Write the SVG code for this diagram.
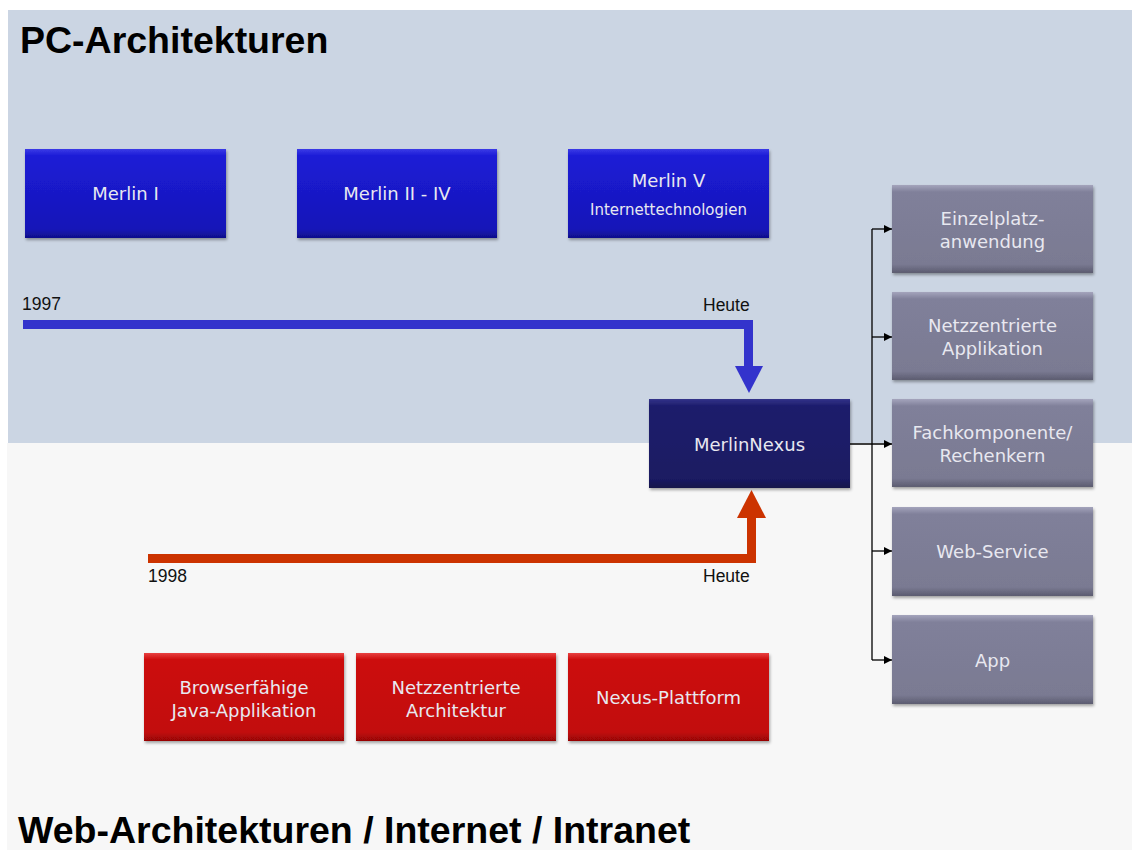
<svg xmlns="http://www.w3.org/2000/svg" width="1132" height="850" viewBox="0 0 1132 850">
<defs>
<filter id="sh" x="-10%" y="-10%" width="125%" height="130%">
<feDropShadow dx="1" dy="2" stdDeviation="1.5" flood-color="#000" flood-opacity="0.35"/>
</filter>
<linearGradient id="gBlue" x1="0" y1="0" x2="0" y2="1">
<stop offset="0" stop-color="#3a3ae6"/><stop offset="0.08" stop-color="#1c1cd6"/><stop offset="0.9" stop-color="#1616b8"/><stop offset="1" stop-color="#10108a"/>
</linearGradient>
<linearGradient id="gNavy" x1="0" y1="0" x2="0" y2="1">
<stop offset="0" stop-color="#34348a"/><stop offset="0.08" stop-color="#1d1d6c"/><stop offset="0.9" stop-color="#1a1a62"/><stop offset="1" stop-color="#12124a"/>
</linearGradient>
<linearGradient id="gRed" x1="0" y1="0" x2="0" y2="1">
<stop offset="0" stop-color="#e84040"/><stop offset="0.08" stop-color="#cc0a0a"/><stop offset="0.9" stop-color="#c20808"/><stop offset="1" stop-color="#960606"/>
</linearGradient>
<linearGradient id="gGray" x1="0" y1="0" x2="0" y2="1">
<stop offset="0" stop-color="#a4a4bc"/><stop offset="0.08" stop-color="#80809a"/><stop offset="0.9" stop-color="#7a7a92"/><stop offset="1" stop-color="#5c5c70"/>
</linearGradient>
<marker id="ah" markerWidth="8" markerHeight="8" refX="8" refY="4" orient="auto" markerUnits="userSpaceOnUse">
<path d="M0,0 L8,4 L0,8 Z" fill="#000"/>
</marker>
<style>
.node rect{filter:url(#sh);}
.lbl{font-family:"DejaVu Sans","Liberation Sans",sans-serif;font-size:18px;fill:#e8e8f0;text-anchor:middle;}
.sm{font-size:15px;}
.title{font-family:"Liberation Sans",Arial,sans-serif;font-weight:bold;font-size:37.5px;fill:#000;}
.tl{font-family:"Liberation Sans",Arial,sans-serif;font-size:17.5px;fill:#111;}
</style>
</defs>
<rect x="0" y="0" width="1132" height="850" fill="#fff"/>
<rect x="8" y="10" width="1124" height="433" fill="#cbd5e3"/>
<rect x="7" y="443" width="1125" height="407" fill="#f7f7f7"/>
<text class="title" x="20" y="53">PC-Architekturen</text>
<text class="title" x="18" y="843">Web-Architekturen / Internet / Intranet</text>

<g id="conn">
<path d="M23,324.5 H748.5 V366" fill="none" stroke="#3333cc" stroke-width="9"/>
<polygon points="735,366 763,366 749,393" fill="#3333cc"/>
<path d="M148,558.5 H751.5 V518" fill="none" stroke="#cc3300" stroke-width="9"/>
<polygon points="737,518 766,518 751.5,490" fill="#cc3300"/>
<g fill="none" stroke="#000" stroke-width="1.3">
<path d="M850,444 H892" marker-end="url(#ah)"/>
<path d="M872,229 V660"/>
<path d="M872,229 H892" marker-end="url(#ah)"/>
<path d="M872,337 H892" marker-end="url(#ah)"/>
<path d="M872,551 H892" marker-end="url(#ah)"/>
<path d="M872,660 H892" marker-end="url(#ah)"/>
</g>
<text class="tl" x="22" y="310">1997</text>
<text class="tl" x="703" y="311">Heute</text>
<text class="tl" x="148" y="582">1998</text>
<text class="tl" x="703" y="582">Heute</text>
</g>

<g id="merlin1" class="node"><rect x="25" y="149" width="201" height="89" fill="url(#gBlue)"/><text class="lbl" x="125.5" y="200">Merlin I</text></g>
<g id="merlin2" class="node"><rect x="297" y="149" width="200" height="89" fill="url(#gBlue)"/><text class="lbl" x="397" y="200">Merlin II - IV</text></g>
<g id="merlin5" class="node"><rect x="568" y="149" width="201" height="89" fill="url(#gBlue)"/><text class="lbl" x="668.5" y="187">Merlin V</text><text class="lbl sm" x="668.5" y="215">Internettechnologien</text></g>

<g id="nexus" class="node"><rect x="649" y="399" width="201" height="89" fill="url(#gNavy)"/><text class="lbl" x="749.5" y="451">MerlinNexus</text></g>

<g id="red1" class="node"><rect x="144" y="653" width="200" height="88" fill="url(#gRed)"/><text class="lbl" x="244" y="694">Browserfähige</text><text class="lbl" x="244" y="717">Java-Applikation</text></g>
<g id="red2" class="node"><rect x="356" y="653" width="200" height="88" fill="url(#gRed)"/><text class="lbl" x="456" y="694">Netzzentrierte</text><text class="lbl" x="456" y="717">Architektur</text></g>
<g id="red3" class="node"><rect x="568" y="653" width="201" height="88" fill="url(#gRed)"/><text class="lbl" x="668.5" y="704">Nexus-Plattform</text></g>

<g id="g1" class="node"><rect x="892" y="185" width="201" height="88" fill="url(#gGray)"/><text class="lbl" x="992.5" y="225">Einzelplatz-</text><text class="lbl" x="992.5" y="248">anwendung</text></g>
<g id="g2" class="node"><rect x="892" y="292" width="201" height="88" fill="url(#gGray)"/><text class="lbl" x="992.5" y="332">Netzzentrierte</text><text class="lbl" x="992.5" y="355">Applikation</text></g>
<g id="g3" class="node"><rect x="892" y="399" width="201" height="88" fill="url(#gGray)"/><text class="lbl" x="992.5" y="439">Fachkomponente/</text><text class="lbl" x="992.5" y="462">Rechenkern</text></g>
<g id="g4" class="node"><rect x="892" y="507" width="201" height="89" fill="url(#gGray)"/><text class="lbl" x="992.5" y="558">Web-Service</text></g>
<g id="g5" class="node"><rect x="892" y="615" width="201" height="89" fill="url(#gGray)"/><text class="lbl" x="992.5" y="667">App</text></g>
</svg>
